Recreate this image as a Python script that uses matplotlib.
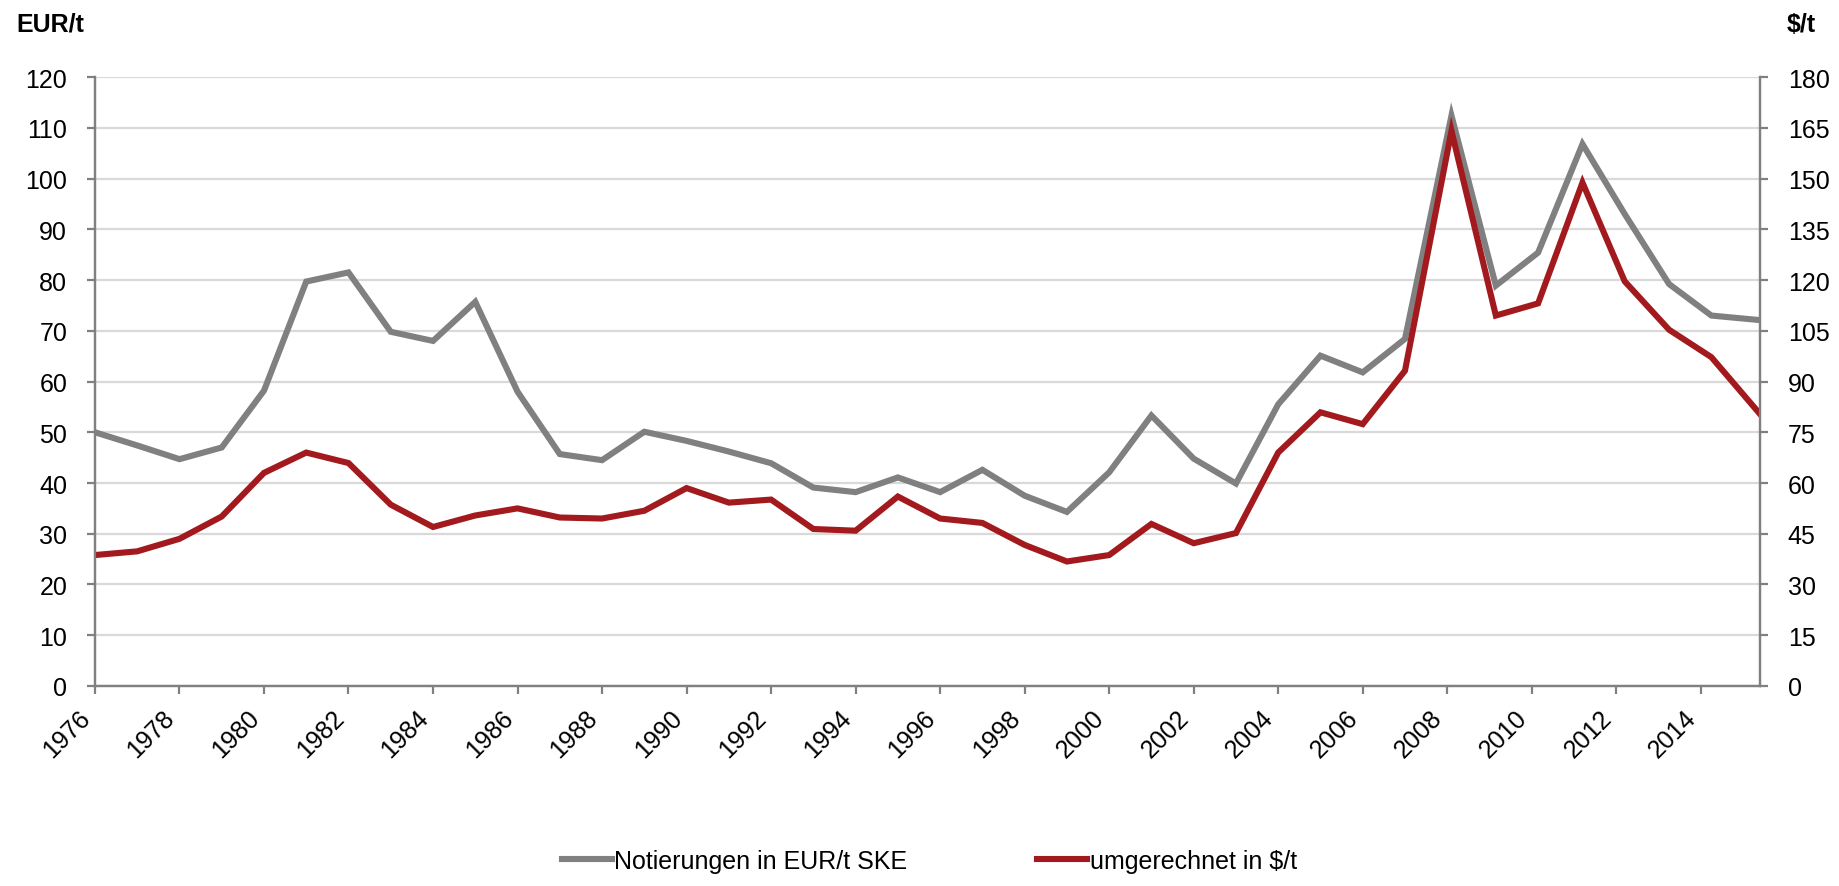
import matplotlib
matplotlib.use('Agg')
import matplotlib.pyplot as plt
from matplotlib.transforms import ScaledTranslation

plt.rcParams['font.family'] = ['Liberation Sans', 'DejaVu Sans']

# Jahresdaten (die letzten Notierungen liegen etwas versetzt)
years = [1976, 1977, 1978, 1979, 1980, 1981, 1982, 1983, 1984, 1985,
         1986, 1987, 1988, 1989, 1990, 1991, 1992, 1993, 1994, 1995,
         1996, 1997, 1998, 1999, 2000, 2001, 2002, 2003, 2004, 2005,
         2006, 2007, 2008.1, 2009.15, 2010.15, 2011.2, 2012.2, 2013.25,
         2014.25, 2015.4]

eur_t = [50.0, 47.4, 44.7, 47.0, 58.2, 79.7, 81.5, 69.8, 68.0, 75.7,
         58.0, 45.7, 44.5, 50.1, 48.3, 46.2, 43.9, 39.1, 38.2, 41.1,
         38.2, 42.6, 37.5, 34.3, 42.1, 53.3, 44.8, 39.9, 55.5, 65.1,
         61.8, 68.4, 112.4, 78.9, 85.4, 106.8, 93.0, 79.2, 73.0, 72.1]

usd_t = [38.7, 39.8, 43.5, 50.1, 63.0, 69.0, 65.9, 53.6, 47.0, 50.4,
         52.5, 49.8, 49.5, 51.8, 58.5, 54.2, 55.1, 46.4, 45.9, 56.0,
         49.5, 48.2, 41.7, 36.8, 38.7, 47.9, 42.2, 45.2, 69.0, 80.9,
         77.4, 93.2, 164.1, 109.5, 113.1, 148.8, 119.6, 105.3, 97.2, 80.4]

xticks = list(range(1976, 2015, 2))
left_ticks = list(range(0, 121, 10))
right_ticks = list(range(0, 181, 15))

grey = '#808080'
red = '#A21A1D'
fs = 18

fig = plt.figure(figsize=(18.4, 8.87), dpi=100)
ax = fig.add_axes([0.0516, 0.2255, 0.9049, 0.6865])
ax2 = ax.twinx()

l1, = ax.plot(years, eur_t, color=grey, lw=4.4, solid_joinstyle='miter',
              label='Notierungen in EUR/t SKE')
l2, = ax2.plot(years, usd_t, color=red, lw=4.4, solid_joinstyle='miter',
               label='umgerechnet in $/t')

ax.set_xlim(1976, 2015.4)
ax.set_ylim(0, 120)
ax2.set_ylim(0, 180)
ax.set_xticks(xticks)
ax.set_xticklabels([str(y) for y in xticks], rotation=45, ha='right',
                   fontsize=fs)
shift = ScaledTranslation(6 / 100, 0, fig.dpi_scale_trans)
for lab in ax.get_xticklabels():
    lab.set_transform(lab.get_transform() + shift)
ax.set_yticks(left_ticks)
ax.set_yticklabels([str(v) for v in left_ticks], fontsize=fs)
ax2.set_yticks(right_ticks)
ax2.set_yticklabels([str(v) for v in right_ticks], fontsize=fs)

ax.grid(axis='y', color='#d9d9d9', lw=1.6)
ax.set_axisbelow(True)

for a in (ax, ax2):
    a.spines['top'].set_visible(False)
    for s in ('left', 'right', 'bottom'):
        a.spines[s].set_color(grey)
        a.spines[s].set_linewidth(1.6)
    a.tick_params(color=grey, width=1.6, length=6, labelcolor='black')
ax.tick_params(axis='y', pad=14)
ax.tick_params(axis='x', pad=8)
ax2.tick_params(axis='y', pad=14)

fig.text(0.009, 0.972, 'EUR/t', fontsize=fs, fontweight='bold', va='center')
fig.text(0.971, 0.972, '$/t', fontsize=fs, fontweight='bold', va='center')

fig.legend(handles=[l1, l2], loc='center', bbox_to_anchor=(0.505, 0.028),
           ncol=2, frameon=False, fontsize=fs, handlelength=2.0,
           handletextpad=0.1, columnspacing=5.2)

fig.savefig('out.png', dpi=100)
